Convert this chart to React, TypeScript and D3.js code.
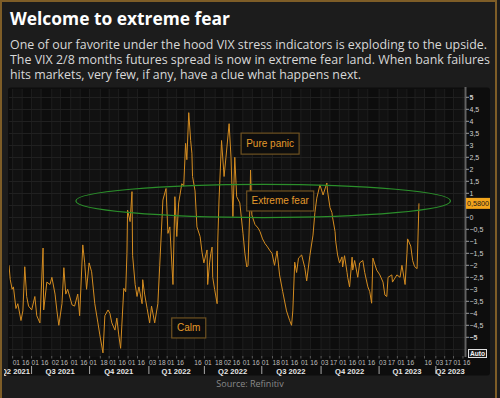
import React from 'react';
import * as d3 from 'd3';

// VIX 2/8 months futures spread
const seriesDates = [
  '2021-05-27', '2021-05-29', '2021-06-01', '2021-06-03', '2021-06-07', '2021-06-10', '2021-06-15', '2021-06-18',
  '2021-06-21', '2021-06-24', '2021-06-27', '2021-07-02', '2021-07-07', '2021-07-10', '2021-07-15', '2021-07-20',
  '2021-07-21', '2021-07-26', '2021-07-31', '2021-08-03', '2021-08-08', '2021-08-11', '2021-08-14', '2021-08-19',
  '2021-08-22', '2021-08-25', '2021-08-28', '2021-09-04', '2021-09-08', '2021-09-13', '2021-09-16', '2021-09-21',
  '2021-09-24', '2021-09-27', '2021-10-01', '2021-10-05', '2021-10-10', '2021-10-15', '2021-10-18', '2021-10-23',
  '2021-10-26', '2021-10-31', '2021-11-03', '2021-11-06', '2021-11-11', '2021-11-14', '2021-11-17', '2021-11-20',
  '2021-11-25', '2021-11-28', '2021-11-30', '2021-12-01', '2021-12-05', '2021-12-08', '2021-12-09', '2021-12-13',
  '2021-12-16', '2021-12-19', '2021-12-24', '2021-12-25', '2021-12-28', '2022-01-01', '2022-01-05', '2022-01-08',
  '2022-01-13', '2022-01-18', '2022-01-21', '2022-01-26', '2022-01-31', '2022-02-03', '2022-02-06', '2022-02-11',
  '2022-02-14', '2022-02-17', '2022-02-20', '2022-02-25', '2022-02-28', '2022-03-03', '2022-03-05', '2022-03-08',
  '2022-03-11', '2022-03-13', '2022-03-14', '2022-03-18', '2022-03-21', '2022-03-26', '2022-03-29', '2022-04-01',
  '2022-04-06', '2022-04-07', '2022-04-10', '2022-04-12', '2022-04-14', '2022-04-15', '2022-04-18', '2022-04-22',
  '2022-04-23', '2022-04-25', '2022-04-29', '2022-05-03', '2022-05-06', '2022-05-11', '2022-05-14', '2022-05-17',
  '2022-05-20', '2022-05-23', '2022-05-28', '2022-06-02', '2022-06-05', '2022-06-08', '2022-06-10', '2022-06-13',
  '2022-06-14', '2022-06-16', '2022-06-21', '2022-06-26', '2022-06-29', '2022-07-03', '2022-07-07', '2022-07-10',
  '2022-07-15', '2022-07-18', '2022-07-22', '2022-07-26', '2022-07-30', '2022-08-04', '2022-08-10', '2022-08-15',
  '2022-08-18', '2022-08-20', '2022-08-23', '2022-08-26', '2022-08-29', '2022-09-03', '2022-09-08', '2022-09-11',
  '2022-09-16', '2022-09-21', '2022-09-24', '2022-09-27', '2022-10-02', '2022-10-07', '2022-10-13', '2022-10-14',
  '2022-10-18', '2022-10-21', '2022-10-22', '2022-10-26', '2022-10-27', '2022-10-30', '2022-11-02', '2022-11-06',
  '2022-11-07', '2022-11-10', '2022-11-14', '2022-11-15', '2022-11-18', '2022-11-22', '2022-11-23', '2022-11-26',
  '2022-12-01', '2022-12-04', '2022-12-09', '2022-12-12', '2022-12-17', '2022-12-20', '2022-12-23', '2022-12-25',
  '2022-12-31', '2023-01-05', '2023-01-10', '2023-01-13', '2023-01-16', '2023-01-18', '2023-01-24', '2023-01-25',
  '2023-02-01', '2023-02-06', '2023-02-09', '2023-02-14', '2023-02-17', '2023-02-18', '2023-02-23', '2023-02-26',
  '2023-03-01', '2023-03-05', '2023-03-06', '2023-03-08',
];

const seriesValues = [
  -2.0, -2.6, -3.0, -2.9, -3.8, -3.6, -4.3, -3.9,
  -2.06, -3.3, -3.7, -3.86, -3.3, -4.1, -4.4, -1.28,
  -3.86, -2.7, -2.8, -2.5, -3.2, -3.9, -4.5, -3.6,
  -2.1, -3.2, -3.0, -3.65, -3.7, -3.2, -4.1, -1.15,
  -1.9, -3.0, -1.9, -2.27, -3.6, -4.4, -4.9, -5.65,
  -4.1, -3.86, -4.0, -4.4, -4.7, -4.2, -4.9, -5.46,
  -2.96, -3.1, -1.5, 0.3, -0.18, 1.07, -1.6, -2.8,
  -3.3, -2.9, -3.6, -2.6, -3.2, -3.8, -4.4, -3.7,
  -4.4, -3.6, -2.0, 0.72, 1.2, -0.67, -0.4, -2.8,
  0.86, -0.8, 0.6, 1.4, 1.3, 3.08, 2.4, 4.36,
  3.2, 2.67, 1.7, 1.1, -0.4, -0.8, -1.45, -1.9,
  -1.36, -2.8, -1.9, -1.5, -1.24, -2.5, -3.0, -3.6,
  -1.0, 0.72, 3.2, 1.7, 2.5, 3.9, 2.5, 0.03,
  2.5, 0.86, 0.6, -0.67, -1.5, -2.07, -2.0, 0.5,
  1.97, 0.1, -0.3, -0.45, -0.6, -0.9, -1.1, -1.2,
  -1.4, -1.5, -2.0, -1.4, -2.4, -3.1, -3.9, -4.3,
  -4.5, -3.9, -1.87, -2.3, -1.7, -1.57, -2.1, -2.65,
  -1.6, -0.74, 0.2, 0.8, 1.35, 0.93, 1.43, 1.1,
  0.4, 0.2, 0.0, -0.6, -1.0, -1.57, -1.9, -1.65,
  -2.07, -1.6, -2.3, -2.5, -2.9, -1.66, -2.2, -1.8,
  -2.5, -1.9, -1.8, -2.3, -2.9, -3.1, -3.58, -1.7,
  -2.2, -2.4, -2.7, -3.24, -3.3, -2.5, -2.4, -2.7,
  -2.4, -2.5, -2.0, -2.8, -1.5, -0.9, -1.2, -1.8,
  -2.05, -2.14, -1.28, 0.58,
];

const lastValueLabel = '0,5800';

const tickDates = [
  '2021-06-01', '2021-06-16', '2021-07-01', '2021-07-16', '2021-08-02', '2021-08-16', '2021-09-01', '2021-09-16',
  '2021-10-01', '2021-10-18', '2021-11-01', '2021-11-16', '2021-12-01', '2021-12-16',
  '2022-01-03', '2022-01-18', '2022-02-01', '2022-02-16', '2022-03-01', '2022-03-16',
  '2022-04-01', '2022-04-18', '2022-05-02', '2022-05-16', '2022-06-01', '2022-06-16',
  '2022-07-01', '2022-07-18', '2022-08-01', '2022-08-16', '2022-09-01', '2022-09-16',
  '2022-10-03', '2022-10-17', '2022-11-01', '2022-11-16', '2022-12-01', '2022-12-16',
  '2023-01-03', '2023-01-17', '2023-02-01', '2023-02-16', '2023-03-01', '2023-03-16',
  '2023-04-03', '2023-04-17', '2023-05-01', '2023-05-16',
];
const hiddenTickLabels = ['2022-03-01', '2023-03-01'];

const quarterStarts = ['2021-04-01', '2021-07-01', '2021-10-01', '2022-01-03', '2022-04-01', '2022-07-01', '2022-10-03', '2023-01-03', '2023-04-03'];
const quarterLabels = ['Q2 2021', 'Q3 2021', 'Q4 2021', 'Q1 2022', 'Q2 2022', 'Q3 2022', 'Q4 2022', 'Q1 2023', 'Q2 2023'];

const yTickValues = [5, 4.5, 4, 3.5, 3, 2.5, 2, 1.5, 1, 0, -0.5, -1, -1.5, -2, -2.5, -3, -3.5, -4, -4.5, -5];

const annotations = [
  { text: 'Pure panic', date: '2022-07-15', value: 3.07, w: 58, h: 21 },
  { text: 'Extreme fear', date: '2022-07-31', value: 0.68, w: 67, h: 20 },
  { text: 'Calm', date: '2022-03-08', value: -4.61, w: 34, h: 20 },
];
const fearZone = { from: '2021-09-10', to: '2023-04-27', high: 1.37, low: -0.01 };

const subtitle = [
  'One of our favorite under the hood VIX stress indicators is exploding to the upside.',
  'The VIX 2/8 months futures spread is now in extreme fear land. When bank failures',
  'hits markets, very few, if any, have a clue what happens next.',
];

const parse = d3.timeParse('%Y-%m-%d');

export default function App() {
  const width = 500;
  const height = 398;
  const plot = { left: 9, right: 465, top: 89, bottom: 357 };

  const x = d3.scaleTime()
    .domain([parse('2021-05-27')!, parse('2023-05-20')!])
    .range([plot.left, plot.right]);
  const y = d3.scaleLinear().domain([-5, 5]).range([337.3, 97.3]);

  const points = seriesDates.map((d, i) => [parse(d)!, seriesValues[i]] as [Date, number]);
  const linePath = d3.line<[Date, number]>()
    .x((d) => x(d[0]))
    .y((d) => y(d[1]))(points) || '';

  const ticks = tickDates.map((d) => parse(d)!);
  const gridY = d3.range(-5.5, 5.01, 0.5);
  const axisFont = '"Liberation Sans", Arial, sans-serif';

  const qStarts = quarterStarts.map((d) => x(parse(d)!));
  const fearX0 = x(parse(fearZone.from)!);
  const fearX1 = x(parse(fearZone.to)!);

  return (
    <div style={{ position: 'absolute', left: 0, top: 0 }}>
      <svg width={width} height={height} style={{ display: 'block' }}>
        <defs>
          <clipPath id="plotClip">
            <rect x={plot.left} y={plot.top} width={plot.right - plot.left} height={plot.bottom - plot.top} />
          </clipPath>
          <clipPath id="axisClip">
            <rect x={4} y={plot.bottom} width={plot.right - 4} height={20} />
          </clipPath>
        </defs>
        <rect x={0} y={0} width={width} height={height} fill="#1c1c1c" />
        <rect x={1} y={1} width={495} height={410} fill="none" stroke="#7e5d27" strokeWidth={2} />

        <text x={10} y={25} fill="#ffffff" fontFamily='"Open Sans", sans-serif' fontWeight={700} fontSize={17}
          textLength={220} lengthAdjust="spacingAndGlyphs">Welcome to extreme fear</text>
        {subtitle.map((line, i) => (
          <text key={i} x={10} y={49 + i * 15} fill="#d8d8d8" fontFamily='"Open Sans", sans-serif' fontSize={11.8}
            textLength={[477, 480, 351][i]} lengthAdjust="spacingAndGlyphs">{line}</text>
        ))}

        {/* chart panel */}
        <rect x={8} y={87.5} width={482} height={288} rx={3} fill="#0d0d0d" />
        <g>
          {ticks.slice(0, -1).map((t, i) => i % 2 === 0 ? (
            <rect key={i} x={x(t)} y={plot.top} width={x(ticks[i + 1]) - x(t)} height={plot.bottom - plot.top} fill="#111111" />
          ) : null)}
          {ticks.map((t, i) => (
            <line key={i} x1={x(t) + 0.5} x2={x(t) + 0.5} y1={plot.top} y2={plot.bottom} stroke="#1e1e1e" strokeWidth={1} />
          ))}
          {gridY.map((v) => (
            <line key={v} x1={plot.left} x2={plot.right} y1={Math.round(y(v)) + 0.5} y2={Math.round(y(v)) + 0.5} stroke="#202020" strokeWidth={1} />
          ))}
        </g>

        <g clipPath="url(#plotClip)">
          <path d={linePath} fill="none" stroke="#d48c20" strokeWidth={1} strokeLinejoin="round" />
          <ellipse cx={(fearX0 + fearX1) / 2} cy={(y(fearZone.high) + y(fearZone.low)) / 2}
            rx={(fearX1 - fearX0) / 2} ry={(y(fearZone.low) - y(fearZone.high)) / 2}
            fill="none" stroke="#2b8f2b" strokeWidth={1.2} />
          {annotations.map((a) => {
            const cx = x(parse(a.date)!);
            const cy = y(a.value);
            return (
              <g key={a.text}>
                <rect x={cx - a.w / 2} y={cy - a.h / 2} width={a.w} height={a.h} fill="#0d0d0d" stroke="#6e5222" strokeWidth={1.2} />
                <text x={cx} y={cy + 3.5} textAnchor="middle" fill="#e39a2b" fontFamily={axisFont} fontSize={10}>{a.text}</text>
              </g>
            );
          })}
        </g>

        {/* x axis */}
        {ticks.map((t, i) => (
          <line key={i} x1={x(t) + 0.5} x2={x(t) + 0.5} y1={plot.bottom - 1} y2={plot.bottom + 1.5} stroke="#5a5a5a" />
        ))}
        {ticks.map((t, i) => hiddenTickLabels.includes(tickDates[i]) ? null : (
          <text key={i} x={x(t) + 0.5} y={365} fill="#bdbdbd" fontFamily={axisFont} fontSize={6.6}>{d3.timeFormat('%d')(t)}</text>
        ))}
        {qStarts.slice(1).map((qx, i) => (
          <line key={i} x1={qx + 0.5} x2={qx + 0.5} y1={366} y2={374} stroke="#a8a8a8" strokeWidth={1} />
        ))}
        <g clipPath="url(#axisClip)">
          {quarterLabels.map((q, i) => {
            if (i === 0) {
              return (
                <text key={q} x={qStarts[1] - 1} y={374} textAnchor="end" fill="#e6e6e6"
                  fontFamily={axisFont} fontWeight={700} fontSize={7.6}>{q}</text>
              );
            }
            const start = qStarts[i];
            const end = i + 1 < qStarts.length ? qStarts[i + 1] : plot.right;
            return (
              <text key={q} x={(start + end) / 2} y={374} textAnchor="middle" fill="#e6e6e6"
                fontFamily={axisFont} fontWeight={700} fontSize={7.6}>{q}</text>
            );
          })}
        </g>

        {/* y axis */}
        <line x1={plot.right + 0.5} x2={plot.right + 0.5} y1={plot.top - 2} y2={plot.bottom} stroke="#626262" strokeWidth={2} />
        {yTickValues.map((v) => (
          <g key={v}>
            <line x1={plot.right + 1} x2={plot.right + 4} y1={y(v)} y2={y(v)} stroke="#9a9a9a" />
            <text x={plot.right + 4.5} y={y(v) + 2.4} fill="#cfcfcf" fontFamily={axisFont} fontSize={7}
              fontWeight={Math.abs(v) === 5 ? 700 : 400}>
              {d3.format('')(v).replace('.', ',')}
            </text>
          </g>
        ))}
        <rect x={plot.right + 1} y={y(0.58) - 5.5} width={24} height={11} fill="#f2a51c" />
        <text x={plot.right + 13} y={y(0.58) + 2.8} textAnchor="middle" fill="#1a1a1a" fontFamily={axisFont} fontSize={7.2}>{lastValueLabel}</text>

        <rect x={468.5} y={349.5} width={18} height={8} fill="#1a1a1a" stroke="#e0e0e0" strokeWidth={1} />
        <text x={477.5} y={356} textAnchor="middle" fill="#f0f0f0" fontFamily={axisFont} fontWeight={700} fontSize={6.6}>Auto</text>

        <text x={250} y={387} textAnchor="middle" fill="#8a8a8a" fontFamily='"Open Sans", sans-serif' fontSize={9}>Source: Refinitiv</text>
      </svg>
    </div>
  );
}
